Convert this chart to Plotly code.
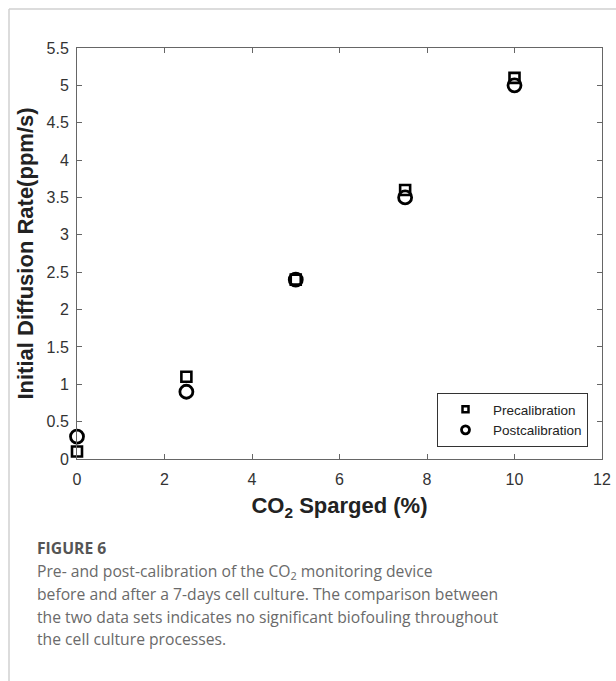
import plotly.graph_objects as go

# ---- data ----
co2_sparged = [0, 2.5, 5, 7.5, 10]
pre_calibration = [0.1, 1.1, 2.4, 3.6, 5.1]
post_calibration = [0.3, 0.9, 2.4, 3.5, 5.0]
x_ticks = [0, 2, 4, 6, 8, 10, 12]
y_ticks = [0, 0.5, 1, 1.5, 2, 2.5, 3, 3.5, 4, 4.5, 5, 5.5]
series_names = ["Precalibration", "Postcalibration"]
caption_title = "FIGURE 6"
caption_lines = [
    "Pre- and post-calibration of the CO<sub>2</sub> monitoring device",
    "before and after a 7-days cell culture. The comparison between",
    "the two data sets indicates no significant biofouling throughout",
    "the cell culture processes.",
]

W, H = 616, 681
L, R, T, B = 77, 602, 48, 459  # plot area in px

def px(x):
    return (x - L) / (R - L)

def py(y):
    return (B - y) / (B - T)

FONT = "Liberation Sans, Arial"

fig = go.Figure()
fig.add_trace(go.Scatter(
    x=co2_sparged, y=pre_calibration, mode="markers", name=series_names[0],
    showlegend=False, cliponaxis=False,
    marker=dict(symbol="square-open", size=10, color="black", line=dict(width=2.6)),
))
fig.add_trace(go.Scatter(
    x=co2_sparged, y=post_calibration, mode="markers", name=series_names[1],
    showlegend=False, cliponaxis=False,
    marker=dict(symbol="circle-open", size=13, color="black", line=dict(width=2.8)),
))
# legend entries (smaller symbols as in the reference legend)
fig.add_trace(go.Scatter(
    x=[None], y=[None], mode="markers", name=series_names[0],
    marker=dict(symbol="square-open", size=6, color="black", line=dict(width=2.5)),
))
fig.add_trace(go.Scatter(
    x=[None], y=[None], mode="markers", name=series_names[1],
    marker=dict(symbol="circle-open", size=8, color="black", line=dict(width=2.8)),
))

axis_common = dict(
    showline=True, linecolor="#666", linewidth=1, mirror="ticks",
    ticks="inside", ticklen=5, tickcolor="#666", showgrid=False, zeroline=False,
    tickfont=dict(family=FONT, size=16, color="#333"),
)

fig.update_layout(
    width=W, height=H,
    margin=dict(l=L, r=W - R, t=T, b=H - B, autoexpand=False),
    paper_bgcolor="white", plot_bgcolor="white",
    xaxis=dict(range=[0, 12], tickvals=x_ticks, ticklabelstandoff=6, **axis_common,
               title=dict(text="<b>CO<sub>2</sub> Sparged (%)</b>", standoff=10,
                          font=dict(family=FONT, size=22, color="#222"))),
    yaxis=dict(range=[0, 5.5], tickvals=y_ticks, ticklabelstandoff=4, **axis_common,
               title=dict(text="<b>Initial Diffusion Rate(ppm/s)</b>", standoff=6,
                          font=dict(family=FONT, size=22, color="#222"))),
    legend=dict(x=px(588), y=py(447), xanchor="right", yanchor="bottom",
                bordercolor="#333", borderwidth=1, bgcolor="white",
                font=dict(family=FONT, size=13.5, color="#222"),
                itemwidth=45, tracegroupgap=0),
    showlegend=True,
)

# page frame lines
fig.add_shape(type="line", xref="paper", yref="paper", x0=px(9), x1=px(616), y0=py(9), y1=py(9),
              line=dict(color="#d0d0d0", width=1.5))
fig.add_shape(type="line", xref="paper", yref="paper", x0=px(9), x1=px(9), y0=py(9), y1=py(681),
              line=dict(color="#d0d0d0", width=1.5))

# caption
fig.add_annotation(text="<b>" + caption_title + "</b>", xref="paper", yref="paper",
                   x=px(35), y=py(548), xanchor="left", yanchor="middle", showarrow=False,
                   font=dict(family="Open Sans", size=15.7, color="#555"))
for i, line in enumerate(caption_lines):
    fig.add_annotation(text=line, xref="paper", yref="paper",
                       x=px(35), y=py(571 + 22.8 * i), xanchor="left", yanchor="middle",
                       showarrow=False, font=dict(family="Open Sans", size=15.7, color="#6a6a6a"))

fig.write_html("out.html")
